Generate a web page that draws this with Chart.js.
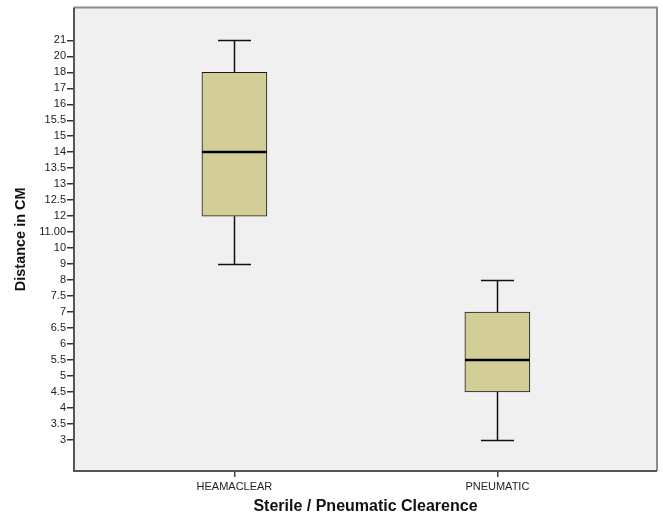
<!DOCTYPE html>
<html>
<head>
<meta charset="utf-8">
<script src="https://cdn.jsdelivr.net/npm/chart.js@4.4.0/dist/chart.umd.min.js"></script>
<style>
  html, body { margin: 0; padding: 0; background: #fff; }
</style>
</head>
<body>
<canvas id="boxChart" width="663" height="517"></canvas>
<script>
const groups = ["HEAMACLEAR", "PNEUMATIC"];
const whiskerLow = [9, 3];
const q1 = [12, 4.5];
const medians = [14, 5.5];
const q3 = [18, 7];
const whiskerHigh = [21, 8];
const yTickLabels = ["3", "3.5", "4", "4.5", "5", "5.5", "6", "6.5", "7", "7.5", "8", "9", "10",
  "11.00", "12", "12.5", "13", "13.5", "14", "15", "15.5", "16", "17", "18", "20", "21"];

// SPSS put every value on its own evenly spaced step, so map value -> step index
function pos(v) {
  return yTickLabels.findIndex((t) => parseFloat(t) === v);
}

const tickFont = { family: "'Liberation Sans', Arial, sans-serif", size: 11 };
const xTitleFont = { family: "'Liberation Sans', Arial, sans-serif", size: 16, weight: "bold" };
const yTitleFont = { family: "'Liberation Sans', Arial, sans-serif", size: 14.5, weight: "bold" };

const boxExtras = {
  id: "boxExtras",
  beforeDatasetsDraw(chart) {
    const { ctx, chartArea: a } = chart;
    ctx.save();
    ctx.fillStyle = "#f0f0f0";
    ctx.fillRect(a.left, a.top, a.right - a.left, a.bottom - a.top);
    ctx.restore();
  },
  afterDatasetsDraw(chart) {
    const { ctx, chartArea: a } = chart;
    const x = chart.scales.x;
    const y = chart.scales.y;
    ctx.save();
    ctx.strokeStyle = "#111";
    groups.forEach((g, i) => {
      const cx = Math.round(x.getPixelForValue(i)) + 0.5;
      const yHi = Math.round(y.getPixelForValue(pos(whiskerHigh[i]))) + 0.5;
      const yQ3 = y.getPixelForValue(pos(q3[i]));
      const yQ1 = y.getPixelForValue(pos(q1[i]));
      const yLo = Math.round(y.getPixelForValue(pos(whiskerLow[i]))) + 0.5;
      ctx.lineWidth = 1.5;
      ctx.beginPath();
      ctx.moveTo(cx, yHi); ctx.lineTo(cx, yQ3);
      ctx.moveTo(cx, yQ1); ctx.lineTo(cx, yLo);
      ctx.stroke();
      ctx.beginPath();
      ctx.moveTo(cx - 16.5, yHi); ctx.lineTo(cx + 16.5, yHi);
      ctx.moveTo(cx - 16.5, yLo); ctx.lineTo(cx + 16.5, yLo);
      ctx.stroke();
      // median
      const ym = Math.round(y.getPixelForValue(pos(medians[i])));
      ctx.lineWidth = 2.5;
      ctx.strokeStyle = "#000";
      ctx.beginPath();
      ctx.moveTo(cx - 32.5, ym); ctx.lineTo(cx + 32.5, ym);
      ctx.stroke();
      ctx.strokeStyle = "#111";
    });
    // plot frame
    ctx.lineWidth = 2;
    ctx.strokeStyle = "#8c8c8c";
    ctx.beginPath();
    ctx.moveTo(a.left, a.top); ctx.lineTo(a.right, a.top); ctx.lineTo(a.right, a.bottom);
    ctx.stroke();
    ctx.strokeStyle = "#555";
    ctx.beginPath();
    ctx.moveTo(a.left, a.top); ctx.lineTo(a.left, a.bottom); ctx.lineTo(a.right, a.bottom);
    ctx.stroke();
    ctx.restore();
  },
};

new Chart(document.getElementById("boxChart"), {
  type: "bar",
  data: {
    datasets: [
      {
        data: groups.map((g, i) => ({ x: i, y: [pos(q1[i]), pos(q3[i])] })),
        backgroundColor: "#d3ce97",
        borderColor: "#1a1a1a",
        borderWidth: 1,
        borderSkipped: false,
        barThickness: 65,
      },
    ],
  },
  options: {
    responsive: false,
    animation: false,
    layout: { padding: { top: 6, right: 6, left: 0, bottom: 0 } },
    plugins: { legend: { display: false }, tooltip: { enabled: false } },
    scales: {
      x: {
        type: "linear",
        offset: false,
        min: -0.61,
        max: 1.607,
        afterBuildTicks: (scale) => {
          scale.ticks = groups.map((g, i) => ({ value: i }));
        },
        afterFit: (scale) => {
          scale.height = 46;
        },
        ticks: {
          autoSkip: false,
          maxRotation: 0,
          padding: 3,
          color: "#222",
          font: tickFont,
          callback: (v) => groups[v],
        },
        grid: { offset: false, drawOnChartArea: false, tickLength: 6, color: "#444", lineWidth: 1.5 },
        border: { display: false },
        title: {
          display: true,
          text: "Sterile / Pneumatic Clearence",
          color: "#111",
          font: xTitleFont,
          padding: { top: 4, bottom: 0.5 },
        },
      },
      y: {
        type: "linear",
        min: -1.95,
        max: 27.05,
        afterBuildTicks: (scale) => {
          scale.ticks = yTickLabels.map((t, i) => ({ value: i }));
        },
        afterFit: (scale) => {
          scale.width = 74;
        },
        ticks: {
          autoSkip: false,
          padding: 1,
          color: "#222",
          font: tickFont,
          callback: (v) => yTickLabels[v],
        },
        grid: { drawOnChartArea: false, tickLength: 7, color: "#333", lineWidth: 1.5 },
        border: { display: false },
        title: {
          display: true,
          text: "Distance in CM",
          color: "#111",
          font: yTitleFont,
          padding: { top: 12, bottom: 4 },
        },
      },
    },
  },
  plugins: [boxExtras],
});
</script>
</body>
</html>
